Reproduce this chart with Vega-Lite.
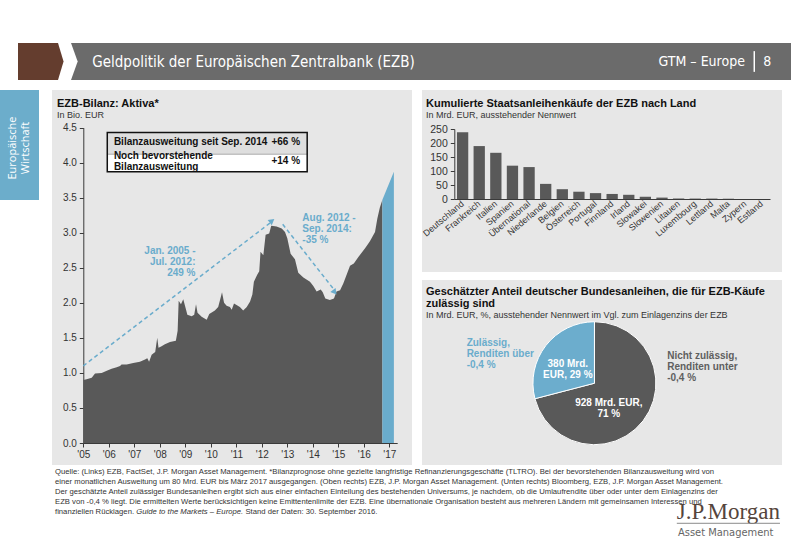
{
"$schema": "https://vega.github.io/schema/vega-lite/v6.json",
"background": "white",
"padding": {"left": 0, "top": 43, "right": 0, "bottom": 0},
"config": {
  "view": {"stroke": null},
  "font": "Liberation Sans",
  "axis": {"grid": false, "labelFont": "Liberation Sans", "labelColor": "#333333", "domainColor": "#3a3a3a", "tickColor": "#3a3a3a", "labelOverlap": false},
  "title": {"font": "Liberation Sans", "subtitleFont": "Liberation Sans", "anchor": "start", "frame": "group", "fontSize": 11, "fontWeight": "bold", "color": "#111111", "subtitleFontSize": 9, "subtitleColor": "#333333", "subtitlePadding": 2},
  "text": {"font": "Liberation Sans"}
},
"spacing": 0,
"vconcat": [
 {
  "spacing": 10,
  "vconcat": [
   {
    "spacing": 0,
    "hconcat": [
     {"width": 18, "height": 37, "data": {"values": [{"t": ""}]}, "mark": {"type": "text"}, "encoding": {"text": {"field": "t"}}},
     {"width": 40, "height": 37, "view": {"fill": "#643d2e", "stroke": null},
      "data": {"values": [{"p": 1}]},
      "mark": {"type": "point", "shape": "M0,-1L0.3,0L0,1Z", "size": 1369, "filled": true, "color": "#643d2e", "opacity": 1, "strokeWidth": 0},
      "encoding": {"x": {"field": "p", "type": "quantitative", "scale": {"domain": [0, 1]}, "axis": null}}},
     {"width": 7, "height": 37, "data": {"values": [{"t": ""}]}, "mark": {"type": "text"}, "encoding": {"text": {"field": "t"}}},
     {"width": 720, "height": 37, "view": {"fill": "#6b6b6b", "stroke": null},
      "layer": [
       {"data": {"values": [{"p": 0}]},
        "mark": {"type": "point", "shape": "M0,-1L0.36,0L0,1Z", "size": 1369, "filled": true, "color": "white", "opacity": 1, "strokeWidth": 0},
        "encoding": {"x": {"field": "p", "type": "quantitative", "scale": {"domain": [0, 100]}, "axis": null}}},
       {"data": {"values": [{"p": 2.95, "t": "Geldpolitik der Europäischen Zentralbank (EZB)"}]},
        "mark": {"type": "text", "align": "left", "baseline": "middle", "fontSize": 15, "font": "Liberation Sans Narrow, DejaVu Sans Condensed, sans-serif", "color": "white"},
        "encoding": {"x": {"field": "p", "type": "quantitative"}, "text": {"field": "t"}}},
       {"data": {"values": [{"p": 93.6, "t": "GTM – Europe"}]},
        "mark": {"type": "text", "align": "right", "baseline": "middle", "fontSize": 14, "font": "Liberation Sans Narrow, DejaVu Sans Condensed, sans-serif", "color": "white"},
        "encoding": {"x": {"field": "p", "type": "quantitative"}, "text": {"field": "t"}}},
       {"data": {"values": [{"p": 94.9}]},
        "mark": {"type": "rule", "color": "white", "strokeWidth": 1.5},
        "encoding": {"x": {"field": "p", "type": "quantitative"}, "y": {"datum": 22, "type": "quantitative", "scale": {"domain": [0, 100]}, "axis": null}, "y2": {"datum": 78}}},
       {"data": {"values": [{"p": 96.7, "t": "8"}]},
        "mark": {"type": "text", "align": "center", "baseline": "middle", "fontSize": 14, "font": "Liberation Sans Narrow, DejaVu Sans Condensed, sans-serif", "color": "white"},
        "encoding": {"x": {"field": "p", "type": "quantitative"}, "text": {"field": "t"}}}
      ]}
    ]
   },
   {
    "spacing": 13,
    "hconcat": [
     {"width": 39, "height": 110, "view": {"fill": "#6cadcb", "stroke": null},
      "data": {"values": [{"t": "Europäische\nWirtschaft"}]},
      "mark": {"type": "text", "angle": 270, "align": "center", "baseline": "middle", "lineBreak": "\n", "fontSize": 11, "lineHeight": 13, "color": "white", "font": "Open Sans", "dy": -6.5, "dx": -3},
      "encoding": {"text": {"field": "t"}}},
     {
      "spacing": 9,
      "hconcat": [
       {
        "width": 360, "height": 375,
        "view": {"fill": "#e7e7e7", "stroke": null},
        "title": {"text": "EZB-Bilanz: Aktiva*", "subtitle": "In Bio. EUR", "offset": -30, "dx": 5},
        "layer": [
         {"data": {"values": [{"t":2005.00,"v":0.90},{"t":2005.13,"v":0.91},{"t":2005.33,"v":0.93},{"t":2005.39,"v":0.96},{"t":2005.46,"v":0.99},{"t":2005.72,"v":1.00},{"t":2005.92,"v":1.03},{"t":2006.11,"v":1.06},{"t":2006.31,"v":1.08},{"t":2006.44,"v":1.10},{"t":2006.50,"v":1.12},{"t":2006.70,"v":1.12},{"t":2006.96,"v":1.14},{"t":2007.22,"v":1.16},{"t":2007.42,"v":1.19},{"t":2007.51,"v":1.21},{"t":2007.58,"v":1.16},{"t":2007.68,"v":1.26},{"t":2007.82,"v":1.30},{"t":2007.90,"v":1.50},{"t":2007.95,"v":1.36},{"t":2008.07,"v":1.38},{"t":2008.20,"v":1.41},{"t":2008.40,"v":1.44},{"t":2008.63,"v":1.46},{"t":2008.70,"v":1.60},{"t":2008.74,"v":2.03},{"t":2008.83,"v":1.98},{"t":2008.92,"v":2.05},{"t":2009.03,"v":1.90},{"t":2009.08,"v":1.83},{"t":2009.25,"v":1.81},{"t":2009.35,"v":1.83},{"t":2009.42,"v":1.98},{"t":2009.48,"v":1.86},{"t":2009.64,"v":1.80},{"t":2009.84,"v":1.76},{"t":2009.94,"v":1.84},{"t":2010.16,"v":1.89},{"t":2010.29,"v":1.94},{"t":2010.39,"v":2.08},{"t":2010.44,"v":2.15},{"t":2010.52,"v":2.00},{"t":2010.62,"v":1.96},{"t":2010.75,"v":1.94},{"t":2010.82,"v":1.90},{"t":2010.91,"v":1.99},{"t":2011.01,"v":1.97},{"t":2011.14,"v":1.94},{"t":2011.27,"v":1.89},{"t":2011.41,"v":1.94},{"t":2011.54,"v":2.02},{"t":2011.63,"v":2.12},{"t":2011.69,"v":2.30},{"t":2011.82,"v":2.40},{"t":2011.90,"v":2.45},{"t":2011.95,"v":2.73},{"t":2012.06,"v":2.68},{"t":2012.15,"v":2.97},{"t":2012.29,"v":2.99},{"t":2012.37,"v":3.10},{"t":2012.58,"v":3.09},{"t":2012.78,"v":3.06},{"t":2012.91,"v":3.01},{"t":2013.00,"v":2.92},{"t":2013.13,"v":2.70},{"t":2013.30,"v":2.62},{"t":2013.43,"v":2.43},{"t":2013.63,"v":2.36},{"t":2013.89,"v":2.30},{"t":2014.02,"v":2.24},{"t":2014.15,"v":2.16},{"t":2014.31,"v":2.19},{"t":2014.39,"v":2.15},{"t":2014.49,"v":2.06},{"t":2014.67,"v":2.04},{"t":2014.83,"v":2.06},{"t":2014.93,"v":2.16},{"t":2015.07,"v":2.18},{"t":2015.20,"v":2.28},{"t":2015.46,"v":2.53},{"t":2015.61,"v":2.56},{"t":2015.78,"v":2.65},{"t":2016.05,"v":2.78},{"t":2016.24,"v":2.88},{"t":2016.44,"v":3.01},{"t":2016.53,"v":3.20},{"t":2016.63,"v":3.36},{"t":2016.73,"v":3.47}]},
          "mark": {"type": "area", "interpolate": "linear", "color": "#595959"},
          "encoding": {
           "x": {"field": "t", "type": "quantitative", "scale": {"domain": [2005, 2017.31], "range": [31.3, 345.2], "nice": false, "zero": false},
                 "axis": {"values": [2005,2006,2007,2008,2009,2010,2011,2012,2013,2014,2015,2016,2017], "tickCount": 50, "labelExpr": "\"'\" + slice(toString(datum.value), 2)", "offset": -22, "tickSize": 4, "labelFontSize": 10, "labelPadding": 2, "labelFlush": false, "labelOverlap": false, "labelBound": false, "title": null}},
           "y": {"field": "v", "type": "quantitative", "stack": null, "scale": {"domain": [0, 4.5], "range": [353, 37.6], "nice": false, "zero": false},
                 "axis": {"values": [0,0.5,1,1.5,2,2.5,3,3.5,4,4.5], "tickCount": 50, "format": ".1f", "offset": -31.3, "tickSize": 4, "labelFontSize": 10, "labelPadding": 3, "labelOverlap": false, "title": null}}
          }},
         {"data": {"values": [{"t": 2016.73, "v": 3.47}, {"t": 2017.18, "v": 3.87}]},
          "mark": {"type": "area", "interpolate": "linear", "color": "#6aaccc"},
          "encoding": {"x": {"field": "t", "type": "quantitative"}, "y": {"field": "v", "type": "quantitative", "stack": null}}},
         {"data": {"values": [{"id": 1, "x1": 2005.0, "y1": 1.10, "x2": 2012.36, "y2": 3.15}, {"id": 2, "x1": 2012.82, "y1": 3.12, "x2": 2014.83, "y2": 2.19}]},
          "mark": {"type": "rule", "color": "#6aaccc", "strokeWidth": 1.5, "strokeDash": [4, 3]},
          "encoding": {"x": {"field": "x1", "type": "quantitative"}, "y": {"field": "y1", "type": "quantitative"}, "x2": {"field": "x2"}, "y2": {"field": "y2"}}},
         {"data": {"values": [{"x": 2012.40, "y": 3.17}]},
          "mark": {"type": "point", "shape": "triangle-right", "size": 45, "filled": true, "opacity": 1, "color": "#6aaccc", "angle": 322.4},
          "encoding": {"x": {"field": "x", "type": "quantitative"}, "y": {"field": "y", "type": "quantitative"}}},
         {"data": {"values": [{"x": 2014.86, "y": 2.15}]},
          "mark": {"type": "point", "shape": "triangle-right", "size": 45, "filled": true, "opacity": 1, "color": "#6aaccc", "angle": 52.2},
          "encoding": {"x": {"field": "x", "type": "quantitative"}, "y": {"field": "y", "type": "quantitative"}}},
         {"data": {"values": [{"x1": 2005.94, "x2": 2013.78, "y1": 3.87, "y2": 4.43}]},
          "mark": {"type": "rect", "color": "white"},
          "encoding": {"x": {"field": "x1", "type": "quantitative"}, "x2": {"field": "x2"}, "y": {"field": "y1", "type": "quantitative"}, "y2": {"field": "y2"}}},
         {"data": {"values": [{"x1": 2005.94, "x2": 2013.78, "y1": 4.12, "y2": 4.43}]},
          "mark": {"type": "rect", "color": "#dedede"},
          "encoding": {"x": {"field": "x1", "type": "quantitative"}, "x2": {"field": "x2"}, "y": {"field": "y1", "type": "quantitative"}, "y2": {"field": "y2"}}},
         {"data": {"values": [{"x1": 2005.94, "x2": 2013.78, "y": 4.12}]},
          "mark": {"type": "rule", "color": "#9a9a9a", "strokeWidth": 0.8},
          "encoding": {"x": {"field": "x1", "type": "quantitative"}, "x2": {"field": "x2"}, "y": {"field": "y", "type": "quantitative"}}},
         {"data": {"values": [{"x1": 2005.94, "x2": 2013.78, "y1": 3.87, "y2": 4.43}]},
          "mark": {"type": "rect", "fillOpacity": 0, "stroke": "#111111", "strokeWidth": 1.5},
          "encoding": {"x": {"field": "x1", "type": "quantitative"}, "x2": {"field": "x2"}, "y": {"field": "y1", "type": "quantitative"}, "y2": {"field": "y2"}}},
         {"data": {"values": [{"x": 2006.2, "y": 4.295, "label": "Bilanzausweitung seit Sep. 2014"}, {"x": 2006.2, "y": 4.10, "label": "Noch bevorstehende\nBilanzausweitung"}]},
          "mark": {"type": "text", "align": "left", "baseline": "middle", "fontSize": 10, "fontWeight": "bold", "color": "#111111", "lineBreak": "\n", "lineHeight": 11},
          "encoding": {"x": {"field": "x", "type": "quantitative"}, "y": {"field": "y", "type": "quantitative"}, "text": {"field": "label"}}},
         {"data": {"values": [{"x": 2013.5, "y": 4.295, "label": "+66 %"}, {"x": 2013.5, "y": 4.027, "label": "+14 %"}]},
          "mark": {"type": "text", "align": "right", "baseline": "middle", "fontSize": 10, "fontWeight": "bold", "color": "#111111"},
          "encoding": {"x": {"field": "x", "type": "quantitative"}, "y": {"field": "y", "type": "quantitative"}, "text": {"field": "label"}}},
         {"data": {"values": [{"x": 2009.4, "y": 2.745, "label": "Jan. 2005 -\nJul. 2012:\n249 %"}]},
          "mark": {"type": "text", "align": "right", "baseline": "middle", "fontSize": 10, "fontWeight": "bold", "color": "#6aaccc", "lineBreak": "\n", "lineHeight": 11},
          "encoding": {"x": {"field": "x", "type": "quantitative"}, "y": {"field": "y", "type": "quantitative"}, "text": {"field": "label"}}},
         {"data": {"values": [{"x": 2013.59, "y": 3.205, "label": "Aug. 2012 -\nSep. 2014:\n-35 %"}]},
          "mark": {"type": "text", "align": "left", "baseline": "middle", "fontSize": 10, "fontWeight": "bold", "color": "#6aaccc", "lineBreak": "\n", "lineHeight": 11},
          "encoding": {"x": {"field": "x", "type": "quantitative"}, "y": {"field": "y", "type": "quantitative"}, "text": {"field": "label"}}}
        ]
       },
       {
        "spacing": 8,
        "vconcat": [
         {
          "width": 360, "height": 182,
          "view": {"fill": "#e7e7e7", "stroke": null},
          "title": {"text": "Kumulierte Staatsanleihenkäufe der EZB nach Land", "subtitle": "In Mrd. EUR, ausstehender Nennwert", "offset": -30, "dx": 4},
          "data": {"values": [
            {"land": "Deutschland", "wert": 238}, {"land": "Frankreich", "wert": 189}, {"land": "Italien", "wert": 165},
            {"land": "Spanien", "wert": 119}, {"land": "Übernational", "wert": 114}, {"land": "Niederlande", "wert": 54},
            {"land": "Belgien", "wert": 35}, {"land": "Österreich", "wert": 26}, {"land": "Portugal", "wert": 21},
            {"land": "Finnland", "wert": 18}, {"land": "Irland", "wert": 15}, {"land": "Slowakei", "wert": 8},
            {"land": "Slowenien", "wert": 5}, {"land": "Litauen", "wert": 2}, {"land": "Luxembourg", "wert": 1.5},
            {"land": "Lettland", "wert": 1.5}, {"land": "Malta", "wert": 1}, {"land": "Zypern", "wert": 0}, {"land": "Estland", "wert": 0}
          ]},
          "mark": {"type": "bar", "color": "#595959"},
          "encoding": {
           "x": {"field": "land", "type": "nominal", "sort": null, "scale": {"range": [32.3, 348], "paddingInner": 0.32, "paddingOuter": 0.16},
                 "axis": {"offset": -73, "labelAngle": -40, "labelAlign": "right", "labelBaseline": "middle", "labelFontSize": 9, "labelPadding": 3, "ticks": false, "title": null}},
           "y": {"field": "wert", "type": "quantitative", "scale": {"domain": [0, 250], "range": [109, 39], "nice": false},
                 "axis": {"values": [0, 50, 100, 150, 200, 250], "tickCount": 50, "offset": -32.3, "tickSize": 4, "labelFontSize": 10.5, "labelPadding": 3, "title": null}}
          }
         },
         {
          "width": 360, "height": 185,
          "view": {"fill": "#e7e7e7", "stroke": null},
          "title": {"text": ["Geschätzter Anteil deutscher Bundesanleihen, die für EZB-Käufe", "zulässig sind"], "subtitle": "In Mrd. EUR, %, ausstehender Nennwert im Vgl. zum Einlagenzins der EZB", "offset": -40, "dx": 4, "lineHeight": 12},
          "layer": [
           {"data": {"values": [{"teil": "Nicht zulässig", "wert": 928}, {"teil": "Zulässig", "wert": 380}]},
            "mark": {"type": "arc", "outerRadius": 61.5, "stroke": "white", "strokeWidth": 1},
            "encoding": {
             "theta": {"field": "wert", "type": "quantitative"},
             "order": {"field": "wert", "sort": "descending"},
             "color": {"field": "teil", "type": "nominal", "scale": {"domain": ["Nicht zulässig", "Zulässig"], "range": ["#595959", "#6cadcd"]}, "legend": null},
             "x": {"datum": 47.9, "type": "quantitative", "scale": {"domain": [0, 100]}, "axis": null},
             "y": {"datum": 55.8, "type": "quantitative", "scale": {"domain": [0, 100], "reverse": true}, "axis": null}
            }},
           {"data": {"values": [{"x": 40.5, "y": 45.4, "label": "380 Mrd.\nEUR, 29 %"}, {"x": 51.9, "y": 66.3, "label": "928 Mrd. EUR,\n71 %"}]},
            "mark": {"type": "text", "align": "center", "baseline": "middle", "fontSize": 10, "fontWeight": "bold", "color": "white", "lineBreak": "\n", "lineHeight": 11},
            "encoding": {"x": {"field": "x", "type": "quantitative"}, "y": {"field": "y", "type": "quantitative"}, "text": {"field": "label"}}},
           {"data": {"values": [{"x": 12.4, "y": 33.9, "label": "Zulässig,\nRenditen über\n-0,4 %"}]},
            "mark": {"type": "text", "align": "left", "baseline": "middle", "fontSize": 10, "fontWeight": "bold", "color": "#6aaccc", "lineBreak": "\n", "lineHeight": 11},
            "encoding": {"x": {"field": "x", "type": "quantitative"}, "y": {"field": "y", "type": "quantitative"}, "text": {"field": "label"}}},
           {"data": {"values": [{"x": 68.1, "y": 41.1, "label": "Nicht zulässig,\nRenditen unter\n-0,4 %"}]},
            "mark": {"type": "text", "align": "left", "baseline": "middle", "fontSize": 10, "fontWeight": "bold", "color": "#5f5f5f", "lineBreak": "\n", "lineHeight": 11},
            "encoding": {"x": {"field": "x", "type": "quantitative"}, "y": {"field": "y", "type": "quantitative"}, "text": {"field": "label"}}}
          ]
         }
        ]
       }
      ]
     }
    ]
   }
  ]
 },
 {
  "width": 800, "height": 89,
  "layer": [
   {"data": {"values": [
     {"x": 6.875, "y": 7.9, "t": "Quelle: (Links) EZB, FactSet, J.P. Morgan Asset Management. *Bilanzprognose ohne gezielte langfristige Refinanzierungsgeschäfte (TLTRO). Bei der bevorstehenden Bilanzausweitung wird von"},
     {"x": 6.875, "y": 19.1, "t": "einer monatlichen Ausweitung um 80 Mrd. EUR bis März 2017 ausgegangen. (Oben rechts) EZB, J.P. Morgan Asset Management. (Unten rechts) Bloomberg, EZB, J.P. Morgan Asset Management."},
     {"x": 6.875, "y": 30.3, "t": "Der geschätzte Anteil zulässiger Bundesanleihen ergibt sich aus einer einfachen Einteilung des bestehenden Universums, je nachdem, ob die Umlaufrendite über oder unter dem Einlagenzins der"},
     {"x": 6.875, "y": 41.6, "t": "EZB von -0,4 % liegt. Die ermittelten Werte berücksichtigen keine Emittentenlimite der EZB. Eine übernationale Organisation besteht aus mehreren Ländern mit gemeinsamen Interessen und"},
     {"x": 6.875, "y": 52.8, "t": "finanziellen Rücklagen."},
     {"x": 30.68, "y": 52.8, "t": "Stand der Daten: 30. September 2016."}
    ]},
    "mark": {"type": "text", "align": "left", "baseline": "middle", "fontSize": 7.7, "color": "#333333"},
    "encoding": {"x": {"field": "x", "type": "quantitative", "scale": {"domain": [0, 100]}, "axis": null},
                 "y": {"field": "y", "type": "quantitative", "scale": {"domain": [0, 100], "reverse": true}, "axis": null},
                 "text": {"field": "t"}}},
   {"data": {"values": [{"x": 17.04, "y": 52.8, "t": "Guide to the Markets – Europe."}]},
    "mark": {"type": "text", "align": "left", "baseline": "middle", "fontSize": 7.7, "fontStyle": "italic", "color": "#333333"},
    "encoding": {"x": {"field": "x", "type": "quantitative"}, "y": {"field": "y", "type": "quantitative"}, "text": {"field": "t"}}},
   {"data": {"values": [{"x": 84.6, "y": 60.7, "t": "J.P.Morgan"}]},
    "mark": {"type": "text", "align": "left", "baseline": "alphabetic", "fontSize": 23, "font": "Liberation Serif", "color": "#55453c"},
    "encoding": {"x": {"field": "x", "type": "quantitative"}, "y": {"field": "y", "type": "quantitative"}, "text": {"field": "t"}}},
   {"data": {"values": [{"x1": 84.6, "x2": 97.5, "y": 65.5}]},
    "mark": {"type": "rule", "color": "#8a8a8a", "strokeWidth": 1},
    "encoding": {"x": {"field": "x1", "type": "quantitative"}, "x2": {"field": "x2"}, "y": {"field": "y", "type": "quantitative"}}},
   {"data": {"values": [{"x": 84.75, "y": 79.4, "t": "Asset Management"}]},
    "mark": {"type": "text", "align": "left", "baseline": "alphabetic", "fontSize": 11, "font": "DejaVu Sans Condensed, Liberation Sans Narrow, sans-serif", "color": "#666666"},
    "encoding": {"x": {"field": "x", "type": "quantitative"}, "y": {"field": "y", "type": "quantitative"}, "text": {"field": "t"}}}
  ]
 }
]
}
